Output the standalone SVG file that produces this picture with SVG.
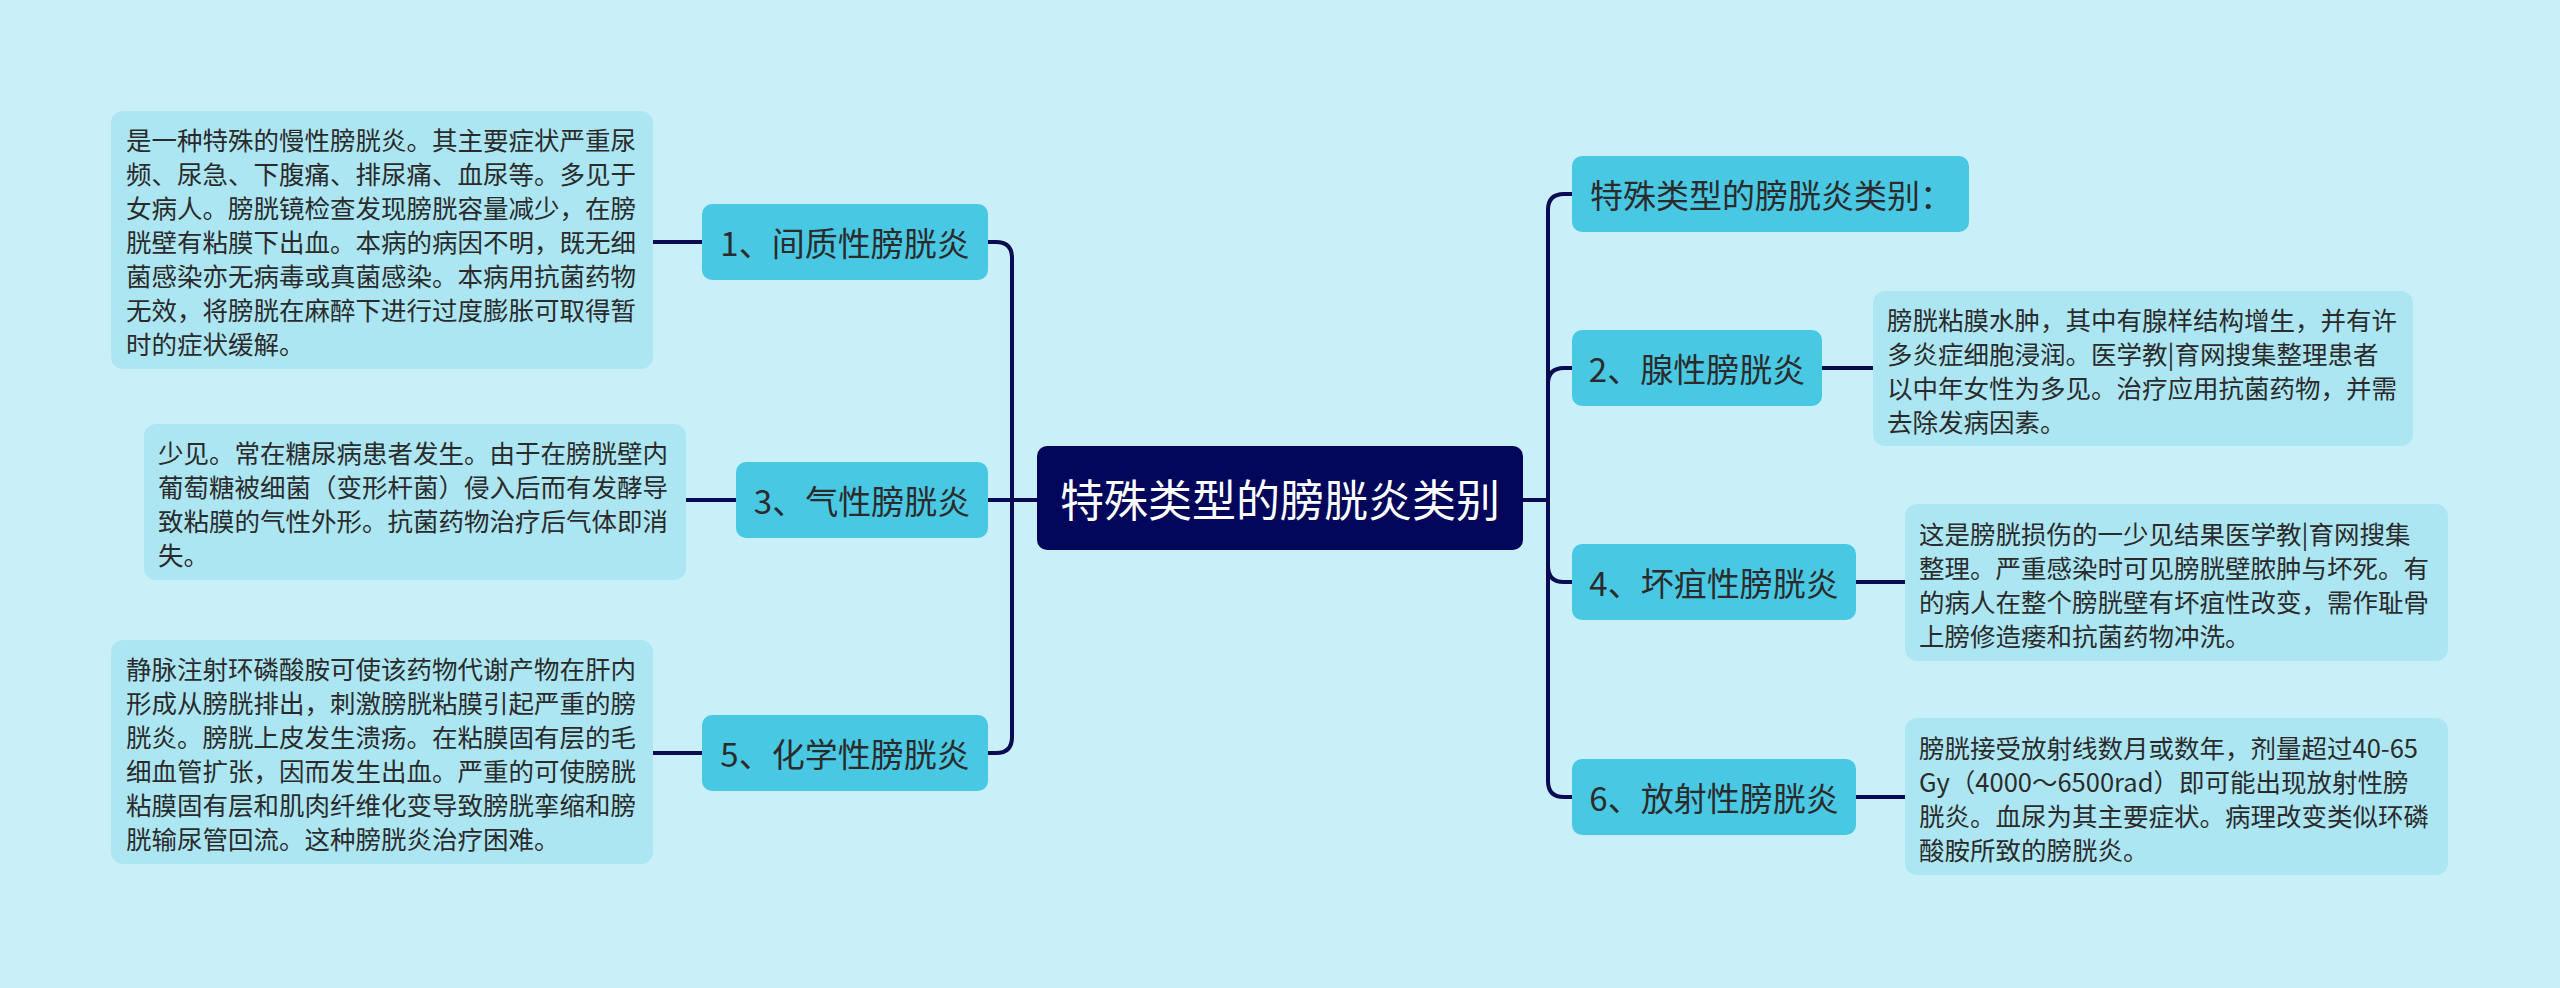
<svg xmlns="http://www.w3.org/2000/svg" width="2560" height="988" viewBox="0 0 2560 988">
<style>
.bg{fill:#c9f0f8}
.root{fill:#02075b}
.node{fill:#48c8e3}
.leaf{fill:#ade6f3}
.rt{font-family:"Noto Sans CJK SC","Noto Sans",sans-serif;font-size:44px;fill:#ffffff;dominant-baseline:central}
.nt{font-family:"Noto Sans CJK SC","Noto Sans",sans-serif;font-size:33px;fill:#2b2b2b;dominant-baseline:central}
.lt{font-family:"Noto Sans CJK SC","Noto Sans",sans-serif;font-size:25.5px;fill:#2b2b2b;dominant-baseline:central}
.c{fill:none;stroke:#0a0b52;stroke-width:4}
</style>
<rect class="bg" x="0" y="0" width="2560" height="988"/>
<g id="connectors">
<path class="c" d="M1037 500 H1012 V258 Q1012 242 996 242 H988"/>
<path class="c" d="M1037 500 H988"/>
<path class="c" d="M1037 500 H1012 V737 Q1012 753 996 753 H988"/>
<path class="c" d="M653 242 H702"/>
<path class="c" d="M686 500 H736"/>
<path class="c" d="M653 753 H702"/>
<path class="c" d="M1523 500 H1548 V210 Q1548 194 1564 194 H1572"/>
<path class="c" d="M1523 500 H1548 V384 Q1548 368 1564 368 H1572"/>
<path class="c" d="M1523 500 H1548 V566 Q1548 582 1564 582 H1572"/>
<path class="c" d="M1523 500 H1548 V781 Q1548 797 1564 797 H1572"/>
<path class="c" d="M1822 368 H1873"/>
<path class="c" d="M1856 582 H1905"/>
<path class="c" d="M1856 797 H1905"/>
</g>
<g id="root">
<rect class="root" x="1037" y="446" width="486" height="104" rx="10"/>
<text class="rt" x="1280" y="498" text-anchor="middle">特殊类型的膀胱炎类别</text>
</g>
<g id="n1">
<rect class="node" x="702" y="204" width="286" height="76" rx="10"/>
<text class="nt" x="845" y="242" text-anchor="middle">1、间质性膀胱炎</text>
</g>
<g id="n3">
<rect class="node" x="736" y="462" width="252" height="76" rx="10"/>
<text class="nt" x="862" y="500" text-anchor="middle">3、气性膀胱炎</text>
</g>
<g id="n5">
<rect class="node" x="702" y="715" width="286" height="76" rx="10"/>
<text class="nt" x="845" y="753" text-anchor="middle">5、化学性膀胱炎</text>
</g>
<g id="r0">
<rect class="node" x="1572" y="156" width="397" height="76" rx="10"/>
<text class="nt" x="1590" y="194">特殊类型的膀胱炎类别：</text>
</g>
<g id="r2">
<rect class="node" x="1572" y="330" width="250" height="76" rx="10"/>
<text class="nt" x="1697" y="368" text-anchor="middle">2、腺性膀胱炎</text>
</g>
<g id="r4">
<rect class="node" x="1572" y="544" width="284" height="76" rx="10"/>
<text class="nt" x="1714" y="582" text-anchor="middle">4、坏疽性膀胱炎</text>
</g>
<g id="r6">
<rect class="node" x="1572" y="759" width="284" height="76" rx="10"/>
<text class="nt" x="1714" y="797" text-anchor="middle">6、放射性膀胱炎</text>
</g>
<g id="leaf1">
<rect class="leaf" x="111" y="111" width="542" height="258" rx="12"/>
<text class="lt" x="126" y="138">是一种特殊的慢性膀胱炎。其主要症状严重尿</text>
<text class="lt" x="126" y="172">频、尿急、下腹痛、排尿痛、血尿等。多见于</text>
<text class="lt" x="126" y="206">女病人。膀胱镜检查发现膀胱容量减少，在膀</text>
<text class="lt" x="126" y="240">胱壁有粘膜下出血。本病的病因不明，既无细</text>
<text class="lt" x="126" y="274">菌感染亦无病毒或真菌感染。本病用抗菌药物</text>
<text class="lt" x="126" y="308">无效，将膀胱在麻醉下进行过度膨胀可取得暂</text>
<text class="lt" x="126" y="342">时的症状缓解。</text>
</g>
<g id="leaf3">
<rect class="leaf" x="144" y="424" width="542" height="156" rx="12"/>
<text class="lt" x="158" y="451">少见。常在糖尿病患者发生。由于在膀胱壁内</text>
<text class="lt" x="158" y="485">葡萄糖被细菌（变形杆菌）侵入后而有发酵导</text>
<text class="lt" x="158" y="519">致粘膜的气性外形。抗菌药物治疗后气体即消</text>
<text class="lt" x="158" y="553">失。</text>
</g>
<g id="leaf5">
<rect class="leaf" x="111" y="640" width="542" height="224" rx="12"/>
<text class="lt" x="126" y="667">静脉注射环磷酸胺可使该药物代谢产物在肝内</text>
<text class="lt" x="126" y="701">形成从膀胱排出，刺激膀胱粘膜引起严重的膀</text>
<text class="lt" x="126" y="735">胱炎。膀胱上皮发生溃疡。在粘膜固有层的毛</text>
<text class="lt" x="126" y="769">细血管扩张，因而发生出血。严重的可使膀胱</text>
<text class="lt" x="126" y="803">粘膜固有层和肌肉纤维化变导致膀胱挛缩和膀</text>
<text class="lt" x="126" y="837">胱输尿管回流。这种膀胱炎治疗困难。</text>
</g>
<g id="leaf2">
<rect class="leaf" x="1873" y="291" width="540" height="155" rx="12"/>
<text class="lt" x="1887" y="318">膀胱粘膜水肿，其中有腺样结构增生，并有许</text>
<text class="lt" x="1887" y="352">多炎症细胞浸润。医学教|育网搜集整理患者</text>
<text class="lt" x="1887" y="386">以中年女性为多见。治疗应用抗菌药物，并需</text>
<text class="lt" x="1887" y="420">去除发病因素。</text>
</g>
<g id="leaf4">
<rect class="leaf" x="1905" y="504" width="543" height="157" rx="12"/>
<text class="lt" x="1919" y="532">这是膀胱损伤的一少见结果医学教|育网搜集</text>
<text class="lt" x="1919" y="566">整理。严重感染时可见膀胱壁脓肿与坏死。有</text>
<text class="lt" x="1919" y="600">的病人在整个膀胱壁有坏疽性改变，需作耻骨</text>
<text class="lt" x="1919" y="634">上膀修造瘘和抗菌药物冲洗。</text>
</g>
<g id="leaf6">
<rect class="leaf" x="1905" y="718" width="543" height="157" rx="12"/>
<text class="lt" x="1919" y="746">膀胱接受放射线数月或数年，剂量超过40-65</text>
<text class="lt" x="1919" y="780">Gy（4000～6500rad）即可能出现放射性膀</text>
<text class="lt" x="1919" y="814">胱炎。血尿为其主要症状。病理改变类似环磷</text>
<text class="lt" x="1919" y="848">酸胺所致的膀胱炎。</text>
</g>
</svg>
